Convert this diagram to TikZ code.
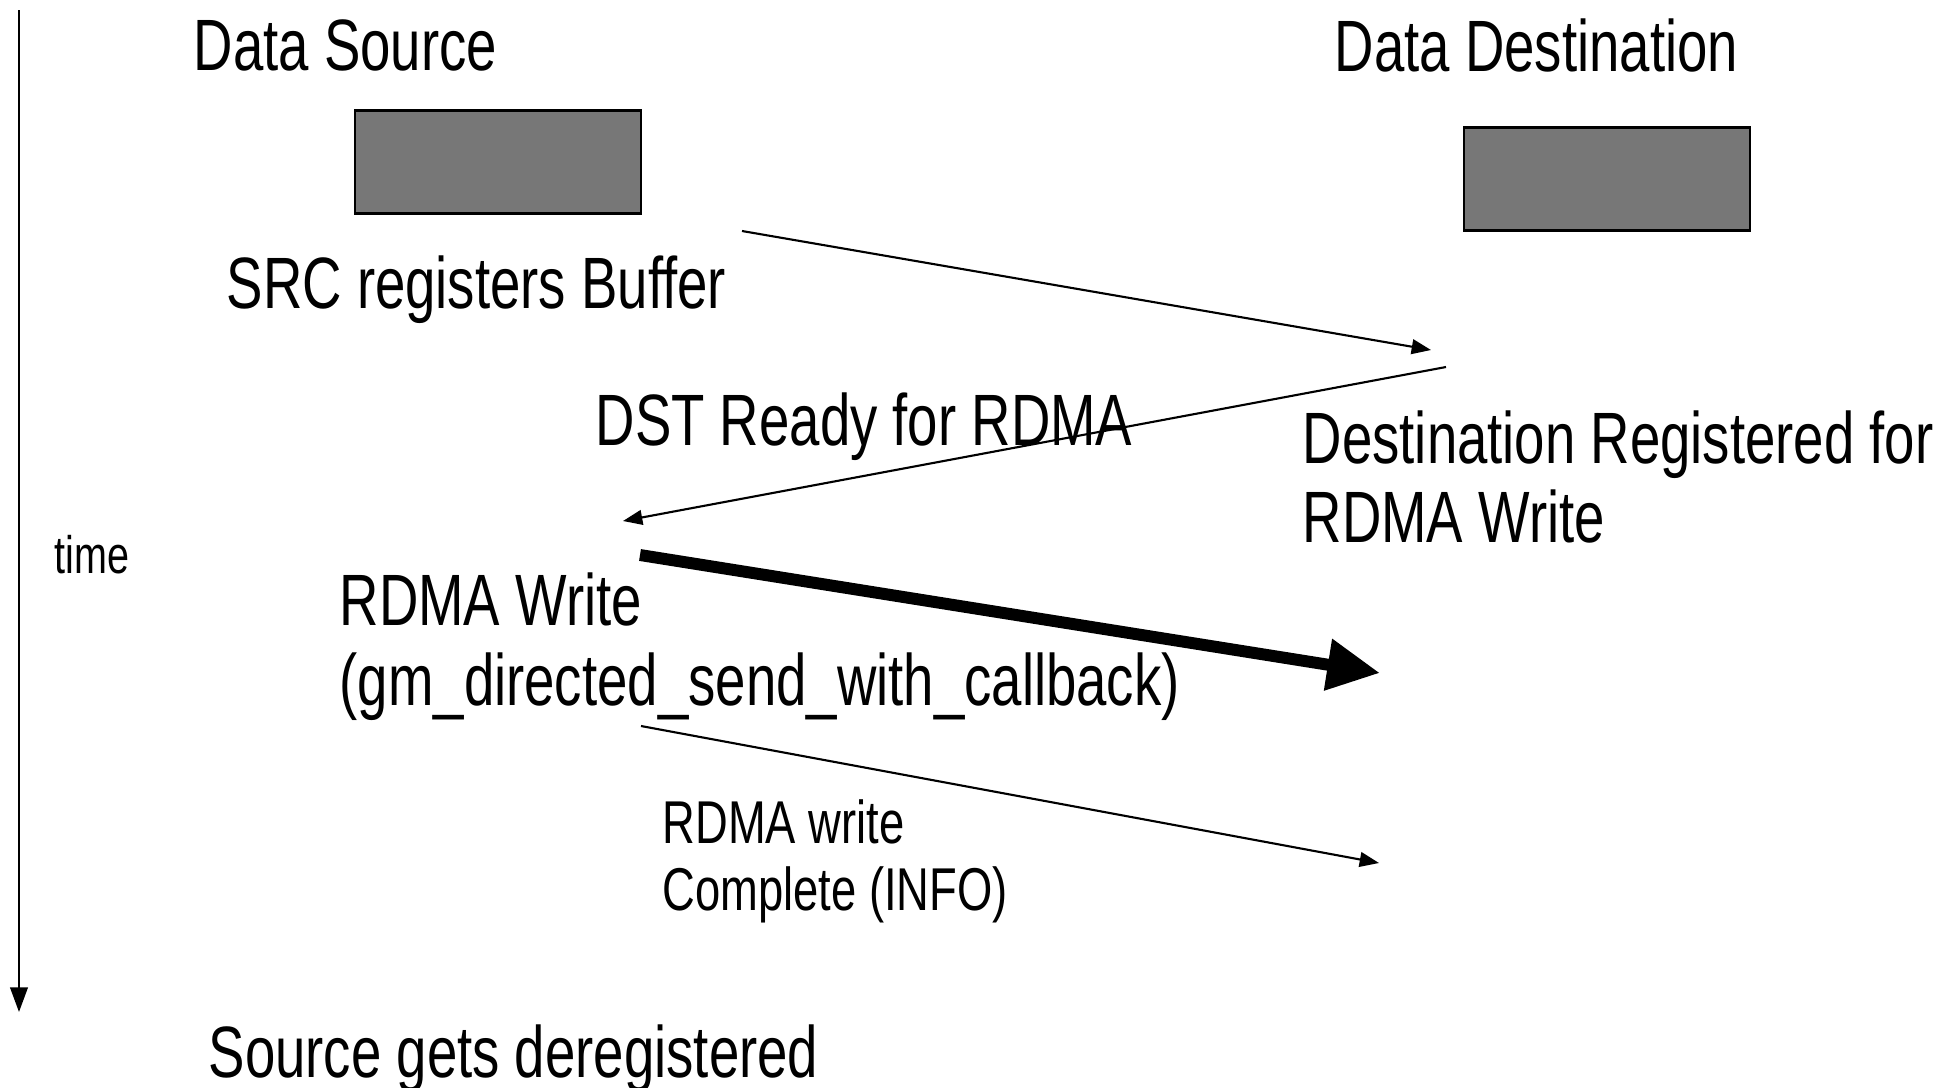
\documentclass[tikz,border=0pt]{standalone}
\usepackage{fontspec}
\setmainfont[FakeStretch=0.75]{Liberation Sans}
\usepackage{tikz}
\usetikzlibrary{arrows.meta}

\definecolor{bufgray}{HTML}{777777}

\tikzset{
  lbl/.style={anchor=west, inner sep=0pt, font=\fontsize{20.7}{22.5}\selectfont, align=left},
  smalllbl/.style={anchor=west, inner sep=0pt, font=\fontsize{17.2}{19}\selectfont, align=left},
  buf/.style={draw=black, line width=0.8pt, fill=bufgray, minimum width=2.86cm, minimum height=1.03cm, inner sep=0pt},
  msg/.style={line width=0.6pt, -{Triangle[length=5.5pt, width=4.2pt]}},
  bulk/.style={line width=3.4pt, -{Triangle[length=15pt, width=14pt]}}
}

\begin{document}
\begin{tikzpicture}

		\useasboundingbox (0,0) rectangle (19.55,10.87);

		% time axis
		\coordinate (T0) at (0.19,10.77);
		\coordinate (T1) at (0.19,0.75);
		\draw [line width=0.6pt, -{Triangle[length=7pt, width=5pt]}] (T0) to (T1);
		\node[anchor=west, inner sep=0pt, font=\fontsize{15}{17}\selectfont] (time) at (0.54,5.32) {time};

		% the two ends
		\node[lbl] (src) at (1.93,10.42) {Data Source};
		\node[lbl] (dst) at (13.34,10.42) {Data Destination};
		\node[buf] (srcbuf) at (4.98,9.25) {};
		\node[buf] (dstbuf) at (16.07,9.08) {};

		% labels
		\node[lbl] (reg) at (2.26,7.97) {SRC registers Buffer};
		\node[lbl] (ready) at (5.95,6.60) {DST Ready for RDMA};
		\node[lbl] (dstreg) at (13.02,6.10) {Destination Registered for\\RDMA Write};
		\node[lbl] (write) at (3.39,4.40) {RDMA Write\\[0.35pt](gm\_directed\_send\_with\_callback)};
		\node[smalllbl] (info) at (6.62,2.26) {RDMA write\\Complete (INFO)};
		\node[lbl] (dereg) at (2.08,0.28) {Source gets deregistered};

		% messages
		\coordinate (A1) at (7.42,8.56);
		\coordinate (B1) at (14.31,7.37);
		\coordinate (A2) at (14.46,7.20);
		\coordinate (B2) at (6.23,5.66);
		\coordinate (A3) at (6.40,5.32);
		\coordinate (B3) at (13.80,4.14);
		\coordinate (A4) at (6.41,3.61);
		\coordinate (B4) at (13.79,2.24);
		\draw [msg] (A1) to (B1);
		\draw [msg] (A2) to (B2);
		\draw [bulk] (A3) to (B3);
		\draw [msg] (A4) to (B4);

\end{tikzpicture}
\end{document}
